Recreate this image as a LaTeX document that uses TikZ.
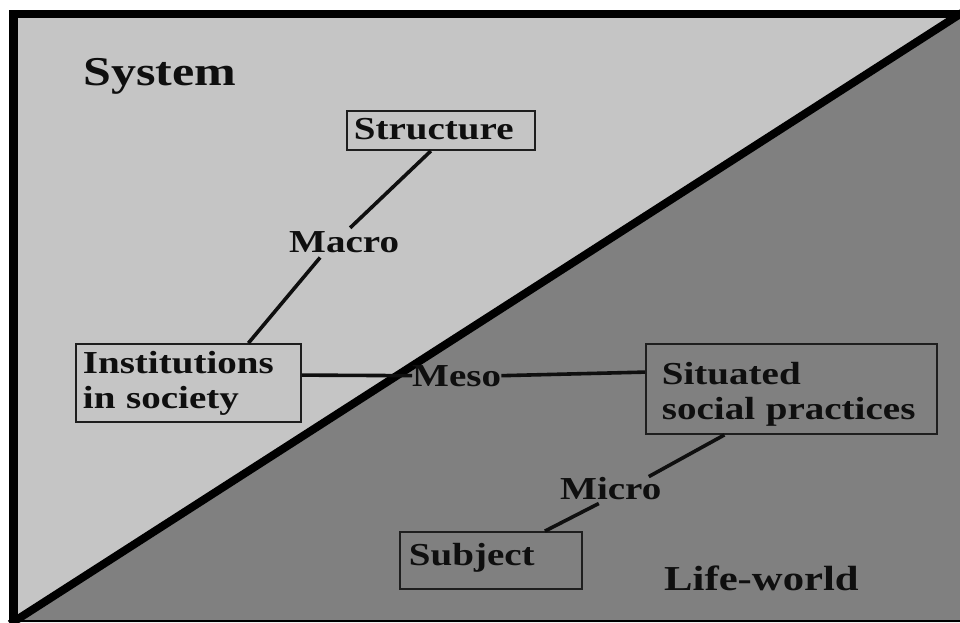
\documentclass[tikz,border=0pt]{standalone}
\usepackage{fontspec}
\setmainfont{Liberation Serif}[FakeStretch=1.22]
\definecolor{lightg}{RGB}{197,197,197}
\definecolor{darkg}{RGB}{128,128,128}
\definecolor{ink}{RGB}{15,15,15}
\definecolor{boxline}{RGB}{30,30,30}
\begin{document}
\begin{tikzpicture}[x=1pt,y=-1pt,
  lbl/.style={anchor=base west, inner sep=0pt, font=\bfseries\fontsize{32}{36}\selectfont, text=ink},
  box/.style={draw=boxline, line width=1.8pt, anchor=base west, inner ysep=0pt, align=left,
              font=\bfseries\fontsize{32}{35}\selectfont, text=ink},
  conn/.style={draw=ink, line width=3.6pt},
  frame/.style={draw=black},
]
\useasboundingbox (0,0) rectangle (960,622);
\begin{scope}
\clip (0,0) rectangle (960,622);
\fill[white] (0,0) rectangle (960,622);
\fill[lightg] (9,10) rectangle (960,622);
\fill[darkg] (960,14) -- (960,622) -- (12.4,622) -- cycle;
\draw[frame, line width=8pt] (10.1,624) -- (963.1,12.1);
\draw[frame, line width=8pt] (9,14) -- (960,14);
\draw[frame, line width=9pt] (13.5,10) -- (13.5,622);
\draw[frame, line width=2pt] (9,621) -- (960,621);
\end{scope}

% nodes
\node[lbl, font=\bfseries\fontsize{41}{45}\selectfont] (system) at (83,85) {System};
\node[box, inner xsep=7pt, text width=174pt, text height=28pt, text depth=11pt] (struct) at (346,139) {Structure};
\node[lbl] (macro) at (289,252) {Macro};
\node[box, inner xsep=7pt, text width=211pt, text height=29pt, text depth=49pt] (inst) at (75,373) {Institutions\\in society};
\node[lbl] (meso) at (412,386) {Meso};
\node[box, inner xsep=16pt, text width=259pt, text height=40pt, text depth=50pt] (sit) at (645,384) {Situated\\social practices};
\node[lbl] (micro) at (560,499) {Micro};
\node[box, inner xsep=9pt, text width=164pt, text height=33pt, text depth=24pt] (subj) at (399,565) {Subject};
\node[lbl, font=\bfseries\fontsize{35}{40}\selectfont] (life) at (664,590) {Life-world};

% connectors
\draw[conn] ([xshift=-10pt]struct.south) -- ([xshift=6pt,yshift=3pt]macro.north);
\draw[conn] ([xshift=-24pt,yshift=-5pt]macro.south) -- ([xshift=60pt]inst.north);
\draw[conn] ([yshift=-32pt]inst.north east) -- (meso.west);
\draw[conn] (meso.east) -- ([yshift=-29pt]sit.north west);
\draw[conn] ([xshift=-67pt]sit.south) -- ([xshift=38pt]micro.north);
\draw[conn] ([xshift=-12pt,yshift=-4pt]micro.south) -- ([xshift=54pt]subj.north);
\end{tikzpicture}
\end{document}
